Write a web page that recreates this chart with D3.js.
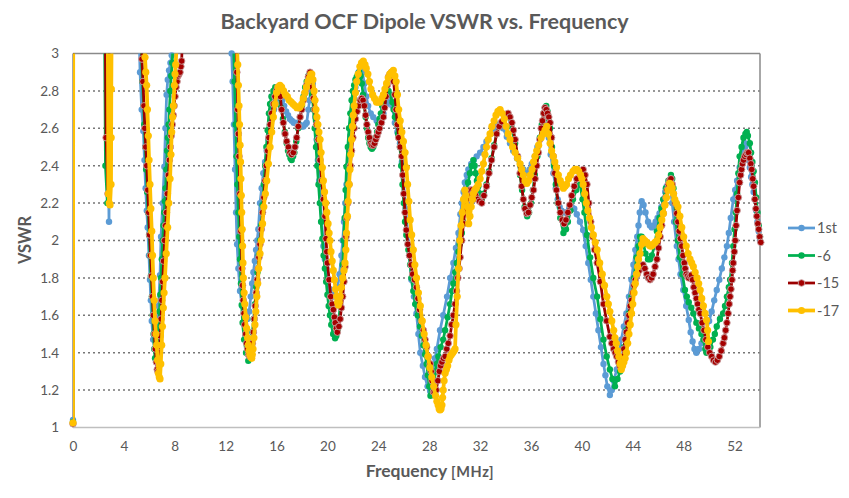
<!DOCTYPE html>
<html><head><meta charset="utf-8">
<script src="https://cdn.jsdelivr.net/npm/d3@7"></script>
<style>body{margin:0;background:#fff;} text{font-family:Lato,"Open Sans",sans-serif;fill:#595959;}</style>
</head><body><svg id="c" width="849" height="498"></svg>
<script>
const chartTitle = "Backyard OCF Dipole VSWR vs. Frequency";
const xTicks = [0,4,8,12,16,20,24,28,32,36,40,44,48,52];
const yTicks = [1,1.2,1.4,1.6,1.8,2,2.2,2.4,2.6,2.8,3];
const yTickLabels = ["1","1.2","1.4","1.6","1.8","2","2.2","2.4","2.6","2.8","3"];
const seriesNames = ["1st","-6","-15","-17"];

const s1st = [[0,1.04],[0.12,15],[1.5,8],[2.6,3.6],[2.83,2.10],[2.98,3.6],[4,8],[5.1,3.4],[5.27,2.90],[5.4,2.70],[5.53,2.585],[5.62,2.43],[5.71,2.28],[5.8,2.16],[5.87,2.07],[5.97,1.92],[6.05,1.79],[6.12,1.68],[6.19,1.57],[6.3,1.47],[6.45,1.42],[6.6,1.5],[6.72,1.65],[6.84,1.815],[6.92,2.02],[7.05,2.2],[7.18,2.395],[7.27,2.6],[7.36,2.78],[7.45,2.86],[7.55,2.91],[7.66,2.95],[7.76,2.99],[7.9,3.3],[10,8],[12.35,3.3],[12.47,3.0],[12.55,2.85],[12.65,2.62],[12.74,2.38],[12.82,2.15],[12.9,1.98],[13.0,1.85],[13.13,1.73],[13.3,1.65],[13.5,1.6],[13.7,1.58],[13.85,1.62],[13.97,1.70],[14.08,1.77],[14.18,1.83],[14.29,1.89],[14.39,1.95],[14.48,2.0],[14.57,2.06],[14.7,2.2],[14.83,2.28],[14.96,2.36],[15.1,2.42],[15.23,2.48],[15.37,2.54],[15.5,2.6],[15.65,2.65],[15.8,2.7],[15.95,2.73],[16.1,2.76],[16.3,2.77],[16.45,2.75],[16.6,2.72],[16.75,2.69],[16.9,2.67],[17.05,2.65],[17.2,2.64],[17.35,2.63],[17.5,2.63],[17.65,2.62],[17.8,2.62],[17.95,2.61],[18.1,2.61],[18.25,2.62],[18.37,2.63],[18.5,2.7],[18.6,2.75],[18.7,2.82],[18.77,2.86],[18.85,2.84],[18.95,2.76],[19.05,2.66],[19.15,2.54],[19.25,2.43],[19.35,2.32],[19.45,2.2],[19.55,2.1],[19.68,1.97],[19.8,1.9],[19.9,1.85],[20.05,1.79],[20.2,1.74],[20.35,1.71],[20.5,1.70],[20.65,1.71],[20.8,1.75],[20.95,1.82],[21.1,1.92],[21.2,2.0],[21.3,2.1],[21.4,2.2],[21.5,2.3],[21.6,2.4],[21.7,2.48],[21.8,2.56],[21.9,2.62],[22.0,2.7],[22.1,2.76],[22.2,2.82],[22.3,2.86],[22.45,2.9],[22.6,2.92],[22.75,2.9],[22.9,2.84],[23.05,2.77],[23.2,2.72],[23.4,2.68],[23.6,2.66],[23.87,2.64],[24.1,2.65],[24.4,2.68],[24.66,2.73],[24.9,2.77],[25.1,2.72],[25.3,2.63],[25.5,2.58],[25.7,2.52],[25.85,2.42],[26.0,2.3],[26.15,2.17],[26.3,2.05],[26.45,1.92],[26.6,1.79],[26.8,1.7],[27.0,1.61],[27.15,1.5],[27.3,1.40],[27.5,1.33],[27.67,1.27],[27.87,1.22],[28.07,1.195],[28.2,1.24],[28.3,1.31],[28.45,1.37],[28.6,1.42],[28.85,1.52],[29.1,1.6],[29.4,1.7],[29.65,1.8],[29.9,1.88],[30.1,1.96],[30.3,2.04],[30.45,2.14],[30.56,2.2],[30.7,2.26],[30.8,2.31],[30.95,2.35],[31.08,2.38],[31.3,2.41],[31.5,2.43],[31.73,2.45],[32.0,2.47],[32.26,2.50],[32.5,2.53],[32.8,2.57],[33.1,2.6],[33.4,2.62],[33.6,2.62],[33.8,2.6],[34.1,2.555],[34.35,2.52],[34.6,2.48],[34.9,2.44],[35.14,2.41],[35.4,2.38],[35.7,2.36],[35.9,2.38],[36.06,2.41],[36.3,2.45],[36.5,2.5],[36.7,2.55],[36.9,2.59],[37.1,2.62],[37.25,2.6],[37.4,2.55],[37.55,2.46],[37.76,2.36],[37.95,2.28],[38.1,2.22],[38.25,2.18],[38.4,2.16],[38.6,2.15],[38.8,2.15],[39.0,2.17],[39.2,2.18],[39.4,2.17],[39.6,2.14],[39.85,2.1],[40.1,2.056],[40.3,1.97],[40.5,1.88],[40.7,1.79],[40.9,1.70],[41.1,1.61],[41.3,1.52],[41.5,1.43],[41.7,1.34],[41.85,1.28],[42.0,1.22],[42.2,1.174],[42.35,1.2],[42.5,1.25],[42.74,1.31],[42.9,1.38],[43.1,1.47],[43.3,1.54],[43.5,1.61],[43.7,1.7],[43.9,1.79],[44.05,1.87],[44.2,1.95],[44.35,2.02],[44.45,2.08],[44.55,2.15],[44.7,2.21],[44.85,2.19],[45.0,2.15],[45.2,2.1],[45.35,2.08],[45.5,2.07],[45.65,2.08],[45.8,2.1],[45.95,2.12],[46.1,2.145],[46.25,2.18],[46.4,2.22],[46.55,2.26],[46.67,2.29],[46.8,2.3],[46.95,2.29],[47.1,2.2],[47.25,2.1],[47.46,1.97],[47.6,1.9],[47.75,1.82],[47.97,1.735],[48.2,1.65],[48.4,1.575],[48.55,1.51],[48.7,1.46],[48.85,1.42],[49.0,1.40],[49.2,1.42],[49.4,1.45],[49.6,1.48],[49.8,1.52],[50.0,1.57],[50.2,1.62],[50.4,1.68],[50.6,1.735],[50.8,1.79],[51.0,1.85],[51.2,1.91],[51.4,1.97],[51.55,2.04],[51.7,2.12],[51.9,2.22],[52.05,2.27],[52.2,2.32],[52.4,2.39],[52.55,2.45],[52.7,2.5],[52.8,2.52],[52.9,2.51],[53.0,2.47],[53.1,2.43],[53.2,2.39],[53.3,2.34],[53.4,2.3],[53.5,2.26],[53.6,2.22],[53.7,2.16],[53.8,2.1],[53.9,2.05],[54.0,2.0]];

const sM6 = [[0,1.03],[0.12,15],[1.5,8],[2.45,3.4],[2.55,2.40],[2.7,2.2],[2.85,3.4],[4,8],[5.25,3.3],[5.35,3.05],[5.45,2.85],[5.55,2.72],[5.6,2.62],[5.68,2.5],[5.75,2.38],[5.83,2.26],[5.9,2.15],[5.98,2.03],[6.05,1.92],[6.12,1.81],[6.2,1.7],[6.27,1.6],[6.33,1.5],[6.39,1.42],[6.45,1.37],[6.55,1.36],[6.62,1.4],[6.68,1.45],[6.74,1.53],[6.8,1.62],[6.86,1.71],[6.92,1.8],[6.98,1.9],[7.05,2.0],[7.11,2.08],[7.17,2.15],[7.22,2.21],[7.28,2.28],[7.34,2.38],[7.4,2.48],[7.46,2.55],[7.52,2.62],[7.58,2.7],[7.65,2.8],[7.72,2.88],[7.8,2.95],[7.95,3.2],[10,8],[12.6,3.1],[12.7,2.85],[12.78,2.62],[12.85,2.45],[12.92,2.3],[13.0,2.15],[13.07,2.02],[13.13,1.9],[13.2,1.77],[13.26,1.655],[13.33,1.56],[13.45,1.47],[13.6,1.4],[13.78,1.357],[13.9,1.38],[14.0,1.44],[14.1,1.51],[14.2,1.58],[14.3,1.66],[14.4,1.75],[14.5,1.83],[14.6,1.92],[14.7,2.0],[14.8,2.08],[14.9,2.19],[15.0,2.3],[15.1,2.4],[15.2,2.5],[15.3,2.59],[15.4,2.68],[15.49,2.73],[15.6,2.77],[15.75,2.80],[15.9,2.82],[16.05,2.82],[16.2,2.78],[16.35,2.71],[16.5,2.65],[16.65,2.58],[16.8,2.52],[16.9,2.48],[17.0,2.46],[17.1,2.44],[17.19,2.43],[17.3,2.45],[17.4,2.47],[17.55,2.53],[17.7,2.6],[17.85,2.66],[18.0,2.72],[18.12,2.77],[18.25,2.82],[18.37,2.85],[18.5,2.88],[18.6,2.87],[18.7,2.85],[18.8,2.78],[18.9,2.7],[19.0,2.6],[19.1,2.5],[19.2,2.4],[19.3,2.3],[19.4,2.2],[19.5,2.1],[19.6,2.01],[19.7,1.92],[19.8,1.85],[19.9,1.78],[20.0,1.71],[20.1,1.65],[20.2,1.6],[20.3,1.55],[20.45,1.5],[20.6,1.477],[20.7,1.49],[20.8,1.52],[20.9,1.58],[21.0,1.65],[21.1,1.75],[21.2,1.87],[21.28,2.0],[21.35,2.12],[21.43,2.27],[21.5,2.395],[21.6,2.5],[21.7,2.6],[21.8,2.68],[21.9,2.75],[22.0,2.8],[22.1,2.83],[22.2,2.86],[22.3,2.875],[22.4,2.89],[22.5,2.9],[22.6,2.88],[22.7,2.84],[22.8,2.78],[22.9,2.72],[23.0,2.66],[23.1,2.6],[23.2,2.55],[23.3,2.52],[23.4,2.5],[23.5,2.49],[23.6,2.5],[23.7,2.52],[23.8,2.55],[23.9,2.58],[24.0,2.62],[24.1,2.65],[24.2,2.68],[24.3,2.72],[24.4,2.74],[24.5,2.77],[24.65,2.79],[24.8,2.8],[24.95,2.78],[25.1,2.74],[25.2,2.7],[25.3,2.66],[25.45,2.62],[25.55,2.57],[25.7,2.5],[25.8,2.4],[25.9,2.3],[26.0,2.2],[26.1,2.1],[26.2,2.03],[26.36,1.95],[26.5,1.87],[26.6,1.8],[26.75,1.73],[26.9,1.66],[27.1,1.6],[27.28,1.54],[27.42,1.49],[27.55,1.44],[27.68,1.39],[27.8,1.34],[27.9,1.28],[28.0,1.22],[28.1,1.17],[28.2,1.18],[28.3,1.2],[28.4,1.25],[28.5,1.3],[28.6,1.34],[28.72,1.38],[28.9,1.43],[29.1,1.47],[29.25,1.52],[29.45,1.59],[29.64,1.66],[29.8,1.73],[29.9,1.77],[30.05,1.83],[30.17,1.88],[30.3,1.94],[30.4,1.98],[30.56,2.04],[30.65,2.1],[30.75,2.16],[30.85,2.22],[30.95,2.27],[31.05,2.31],[31.2,2.36],[31.35,2.4],[31.47,2.43],[31.57,2.4],[31.65,2.36],[31.75,2.32],[31.86,2.29],[32.0,2.25],[32.13,2.22],[32.3,2.25],[32.5,2.3],[32.7,2.37],[32.9,2.44],[33.1,2.51],[33.3,2.57],[33.5,2.61],[33.7,2.63],[33.95,2.66],[34.2,2.67],[34.45,2.61],[34.75,2.52],[34.95,2.44],[35.14,2.35],[35.3,2.27],[35.5,2.18],[35.7,2.13],[35.85,2.15],[36.0,2.2],[36.15,2.27],[36.3,2.35],[36.5,2.45],[36.7,2.55],[36.85,2.62],[37.0,2.68],[37.1,2.71],[37.2,2.72],[37.3,2.69],[37.4,2.65],[37.5,2.6],[37.65,2.5],[37.8,2.4],[37.95,2.3],[38.1,2.2],[38.3,2.12],[38.55,2.04],[38.75,2.06],[38.9,2.1],[39.1,2.16],[39.3,2.22],[39.55,2.27],[39.86,2.30],[40.05,2.22],[40.2,2.15],[40.4,2.03],[40.65,1.91],[40.9,1.8],[41.2,1.70],[41.45,1.58],[41.7,1.47],[41.95,1.38],[42.2,1.31],[42.4,1.26],[42.6,1.22],[42.8,1.26],[43.0,1.3],[43.1,1.34],[43.3,1.43],[43.5,1.52],[43.7,1.61],[43.9,1.70],[44.1,1.8],[44.3,1.91],[44.45,1.97],[44.57,2.02],[44.7,2.02],[44.85,1.98],[45.0,1.93],[45.2,1.90],[45.35,1.9],[45.5,1.92],[45.7,1.97],[45.9,2.05],[46.1,2.12],[46.25,2.17],[46.4,2.22],[46.6,2.28],[46.8,2.32],[47.0,2.35],[47.1,2.33],[47.2,2.28],[47.3,2.2],[47.4,2.1],[47.55,2.0],[47.7,1.91],[47.9,1.82],[48.1,1.735],[48.25,1.7],[48.4,1.67],[48.6,1.64],[48.76,1.61],[49.0,1.56],[49.2,1.53],[49.4,1.5],[49.55,1.47],[49.7,1.42],[49.8,1.40],[49.95,1.41],[50.1,1.43],[50.3,1.47],[50.45,1.5],[50.6,1.54],[50.85,1.58],[51.1,1.61],[51.25,1.65],[51.4,1.7],[51.55,1.75],[51.65,1.79],[51.8,1.88],[51.9,1.97],[52.0,2.06],[52.1,2.15],[52.2,2.25],[52.3,2.36],[52.4,2.45],[52.55,2.5],[52.7,2.55],[52.85,2.57],[52.96,2.58],[53.05,2.56],[53.2,2.52],[53.3,2.47],[53.4,2.42],[53.5,2.37],[53.6,2.31],[53.7,2.23],[53.8,2.15],[53.9,2.08],[54.0,2.02]];

const sM15 = [[0,1.02],[0.12,15],[1.5,8],[2.5,3.4],[2.6,2.55],[2.75,2.25],[2.9,3.4],[4,8],[5.3,3.3],[5.35,3.1],[5.42,2.97],[5.5,2.85],[5.58,2.72],[5.65,2.6],[5.72,2.5],[5.8,2.4],[5.88,2.27],[5.95,2.15],[6.02,2.03],[6.1,1.92],[6.17,1.81],[6.25,1.7],[6.32,1.6],[6.4,1.5],[6.47,1.42],[6.55,1.35],[6.62,1.31],[6.68,1.30],[6.74,1.34],[6.8,1.4],[6.86,1.49],[6.92,1.58],[6.98,1.68],[7.05,1.78],[7.12,1.89],[7.2,2.0],[7.28,2.08],[7.35,2.15],[7.42,2.25],[7.5,2.35],[7.58,2.43],[7.65,2.5],[7.72,2.56],[7.8,2.62],[7.88,2.67],[7.95,2.72],[8.02,2.77],[8.1,2.82],[8.18,2.85],[8.25,2.88],[8.33,2.89],[8.41,2.9],[8.48,2.93],[8.54,2.96],[8.65,3.2],[10,8],[12.7,3.3],[12.8,3.1],[12.88,2.9],[12.95,2.7],[13.0,2.57],[13.05,2.45],[13.12,2.25],[13.2,2.05],[13.28,1.85],[13.33,1.76],[13.38,1.68],[13.44,1.61],[13.5,1.55],[13.58,1.5],[13.65,1.45],[13.72,1.42],[13.8,1.39],[13.88,1.38],[13.95,1.38],[14.02,1.41],[14.1,1.45],[14.18,1.51],[14.25,1.58],[14.32,1.65],[14.4,1.72],[14.48,1.79],[14.55,1.85],[14.62,1.91],[14.7,1.98],[14.8,2.06],[14.9,2.15],[15.0,2.23],[15.1,2.32],[15.2,2.4],[15.3,2.48],[15.4,2.55],[15.5,2.62],[15.62,2.68],[15.75,2.73],[15.88,2.77],[16.0,2.8],[16.1,2.82],[16.2,2.82],[16.3,2.77],[16.4,2.70],[16.53,2.63],[16.67,2.57],[16.8,2.53],[16.93,2.50],[17.06,2.47],[17.19,2.46],[17.32,2.47],[17.45,2.50],[17.58,2.55],[17.71,2.61],[17.85,2.66],[17.98,2.70],[18.11,2.75],[18.24,2.79],[18.37,2.83],[18.5,2.875],[18.63,2.90],[18.72,2.87],[18.8,2.82],[18.9,2.76],[19.0,2.7],[19.14,2.62],[19.28,2.54],[19.42,2.43],[19.55,2.32],[19.68,2.22],[19.81,2.13],[19.89,2.01],[19.95,1.94],[20.0,1.88],[20.13,1.79],[20.26,1.70],[20.37,1.66],[20.47,1.63],[20.55,1.59],[20.62,1.56],[20.7,1.53],[20.78,1.51],[20.9,1.54],[21.0,1.58],[21.1,1.64],[21.2,1.70],[21.3,1.78],[21.38,1.86],[21.46,2.02],[21.53,2.12],[21.6,2.2],[21.7,2.3],[21.8,2.4],[21.9,2.48],[22.0,2.55],[22.1,2.6],[22.2,2.65],[22.33,2.69],[22.45,2.72],[22.58,2.75],[22.7,2.76],[22.8,2.75],[22.9,2.72],[23.0,2.67],[23.1,2.62],[23.2,2.58],[23.3,2.55],[23.4,2.52],[23.48,2.51],[23.6,2.51],[23.7,2.52],[23.8,2.54],[23.9,2.56],[24.0,2.58],[24.1,2.6],[24.25,2.63],[24.4,2.66],[24.5,2.71],[24.6,2.77],[24.7,2.83],[24.8,2.875],[24.92,2.89],[25.05,2.90],[25.13,2.88],[25.2,2.85],[25.3,2.78],[25.4,2.7],[25.5,2.62],[25.6,2.55],[25.72,2.5],[25.84,2.45],[25.92,2.35],[26.0,2.25],[26.1,2.15],[26.2,2.056],[26.32,1.98],[26.45,1.92],[26.58,1.87],[26.7,1.82],[26.85,1.79],[27.0,1.75],[27.12,1.69],[27.25,1.63],[27.4,1.57],[27.54,1.52],[27.67,1.47],[27.8,1.43],[27.93,1.38],[28.07,1.34],[28.15,1.3],[28.22,1.25],[28.33,1.19],[28.45,1.19],[28.55,1.2],[28.68,1.25],[28.8,1.3],[28.9,1.33],[29.0,1.35],[29.12,1.37],[29.25,1.38],[29.38,1.42],[29.5,1.45],[29.64,1.49],[29.77,1.55],[29.9,1.6],[30.03,1.66],[30.15,1.73],[30.25,1.8],[30.35,1.85],[30.43,1.91],[30.56,2.0],[30.69,2.09],[30.82,2.16],[30.95,2.22],[31.08,2.25],[31.2,2.27],[31.35,2.27],[31.5,2.26],[31.65,2.24],[31.8,2.22],[31.95,2.21],[32.13,2.20],[32.3,2.24],[32.5,2.29],[32.7,2.36],[32.9,2.43],[33.1,2.5],[33.3,2.57],[33.5,2.61],[33.7,2.635],[33.95,2.66],[34.2,2.68],[34.35,2.66],[34.5,2.63],[34.62,2.59],[34.75,2.54],[34.95,2.45],[35.14,2.36],[35.27,2.29],[35.4,2.22],[35.53,2.17],[35.67,2.145],[35.8,2.15],[35.93,2.19],[36.06,2.23],[36.2,2.27],[36.32,2.33],[36.45,2.4],[36.58,2.47],[36.7,2.54],[36.8,2.6],[36.9,2.64],[37.0,2.68],[37.1,2.71],[37.2,2.7],[37.3,2.68],[37.4,2.66],[37.5,2.63],[37.62,2.55],[37.75,2.45],[37.87,2.36],[38.0,2.27],[38.15,2.2],[38.3,2.15],[38.45,2.11],[38.6,2.09],[38.75,2.11],[38.9,2.15],[39.05,2.19],[39.2,2.24],[39.4,2.29],[39.6,2.33],[39.85,2.36],[40.1,2.38],[40.25,2.35],[40.4,2.3],[40.55,2.2],[40.7,2.1],[40.85,2.02],[41.0,1.95],[41.2,1.88],[41.45,1.78],[41.7,1.66],[41.95,1.57],[42.2,1.485],[42.35,1.45],[42.5,1.42],[42.62,1.4],[42.74,1.38],[42.87,1.35],[43.0,1.325],[43.1,1.35],[43.2,1.38],[43.3,1.42],[43.4,1.47],[43.5,1.51],[43.6,1.56],[43.7,1.6],[43.8,1.65],[43.9,1.68],[44.0,1.72],[44.1,1.76],[44.2,1.79],[44.35,1.82],[44.5,1.84],[44.65,1.86],[44.8,1.87],[44.95,1.85],[45.1,1.82],[45.23,1.8],[45.36,1.79],[45.48,1.8],[45.6,1.82],[45.75,1.86],[45.9,1.90],[46.03,1.96],[46.15,2.02],[46.28,2.08],[46.4,2.145],[46.5,2.19],[46.6,2.23],[46.7,2.27],[46.8,2.3],[46.9,2.32],[47.0,2.33],[47.1,2.3],[47.2,2.25],[47.33,2.2],[47.46,2.145],[47.55,2.1],[47.65,2.05],[47.75,2.01],[47.85,1.97],[47.95,1.92],[48.05,1.88],[48.12,1.85],[48.2,1.82],[48.3,1.81],[48.4,1.8],[48.5,1.81],[48.6,1.815],[48.7,1.79],[48.8,1.75],[48.9,1.72],[49.0,1.69],[49.1,1.66],[49.2,1.63],[49.3,1.61],[49.45,1.56],[49.6,1.52],[49.75,1.47],[49.9,1.43],[50.05,1.4],[50.2,1.38],[50.35,1.36],[50.5,1.35],[50.65,1.36],[50.8,1.38],[50.95,1.41],[51.1,1.45],[51.2,1.48],[51.3,1.52],[51.4,1.56],[51.5,1.61],[51.58,1.66],[51.65,1.7],[51.72,1.74],[51.8,1.79],[51.85,1.84],[51.9,1.88],[51.98,1.94],[52.05,2.0],[52.12,2.08],[52.2,2.16],[52.3,2.23],[52.4,2.31],[52.48,2.35],[52.55,2.38],[52.62,2.41],[52.7,2.43],[52.8,2.45],[52.9,2.46],[53.0,2.47],[53.1,2.47],[53.2,2.44],[53.28,2.41],[53.35,2.38],[53.43,2.33],[53.5,2.29],[53.6,2.22],[53.68,2.17],[53.75,2.13],[53.83,2.09],[53.9,2.06],[53.98,2.02],[54.06,1.99]];

const sM17 = [[0,1.025],[0.12,15],[1.5,8],[2.72,3.4],[2.78,2.25],[2.85,2.2],[2.91,2.19],[2.99,2.30],[3.0,2.55],[3.01,2.81],[3.06,3.4],[4,8],[5.55,3.1],[5.66,2.98],[5.72,2.9],[5.79,2.83],[5.85,2.7],[5.92,2.56],[5.98,2.43],[6.05,2.30],[6.12,2.17],[6.19,2.05],[6.25,1.92],[6.31,1.80],[6.38,1.68],[6.45,1.57],[6.52,1.5],[6.58,1.44],[6.65,1.36],[6.71,1.29],[6.78,1.27],[6.84,1.26],[6.9,1.34],[6.97,1.44],[7.03,1.54],[7.1,1.64],[7.16,1.72],[7.23,1.80],[7.33,1.93],[7.44,2.07],[7.53,2.2],[7.63,2.33],[7.7,2.46],[7.76,2.58],[7.83,2.66],[7.89,2.72],[7.97,2.83],[8.02,2.89],[8.07,2.94],[8.15,3.05],[8.3,3.3],[10,8],[12.75,3.3],[12.85,3.1],[12.95,2.94],[13.0,2.83],[13.05,2.72],[13.09,2.62],[13.13,2.51],[13.17,2.42],[13.2,2.33],[13.23,2.24],[13.26,2.15],[13.3,2.06],[13.33,1.97],[13.36,1.88],[13.39,1.80],[13.45,1.72],[13.5,1.66],[13.58,1.59],[13.65,1.53],[13.72,1.48],[13.78,1.44],[13.84,1.41],[13.9,1.39],[13.97,1.38],[14.05,1.37],[14.1,1.39],[14.15,1.42],[14.22,1.48],[14.3,1.55],[14.37,1.62],[14.45,1.7],[14.52,1.77],[14.6,1.85],[14.7,1.93],[14.8,2.0],[14.9,2.09],[15.0,2.18],[15.12,2.25],[15.23,2.32],[15.36,2.41],[15.49,2.50],[15.62,2.58],[15.75,2.66],[15.88,2.73],[16.0,2.79],[16.13,2.82],[16.27,2.83],[16.4,2.82],[16.55,2.8],[16.7,2.78],[16.85,2.77],[17.0,2.75],[17.15,2.74],[17.3,2.73],[17.45,2.72],[17.6,2.71],[17.75,2.71],[17.85,2.715],[17.98,2.73],[18.1,2.76],[18.22,2.79],[18.35,2.82],[18.47,2.85],[18.6,2.87],[18.7,2.89],[18.77,2.89],[18.86,2.86],[18.95,2.8],[19.02,2.75],[19.1,2.7],[19.17,2.66],[19.25,2.62],[19.33,2.58],[19.42,2.54],[19.5,2.47],[19.6,2.39],[19.68,2.32],[19.77,2.26],[19.86,2.2],[19.95,2.15],[20.05,2.09],[20.13,2.04],[20.2,2.0],[20.28,1.94],[20.37,1.89],[20.46,1.84],[20.55,1.79],[20.64,1.74],[20.73,1.70],[20.8,1.67],[20.86,1.655],[20.93,1.67],[21.0,1.7],[21.1,1.75],[21.2,1.8],[21.3,1.84],[21.38,1.88],[21.45,1.95],[21.5,2.04],[21.57,2.13],[21.63,2.21],[21.7,2.3],[21.77,2.38],[21.83,2.46],[21.9,2.54],[21.97,2.61],[22.03,2.67],[22.1,2.72],[22.2,2.79],[22.3,2.85],[22.42,2.89],[22.55,2.93],[22.68,2.95],[22.82,2.96],[22.95,2.94],[23.05,2.92],[23.18,2.89],[23.3,2.85],[23.42,2.81],[23.55,2.78],[23.7,2.76],[23.85,2.74],[24.0,2.74],[24.13,2.74],[24.27,2.76],[24.4,2.78],[24.52,2.81],[24.65,2.84],[24.78,2.87],[24.9,2.89],[25.05,2.9],[25.18,2.91],[25.3,2.88],[25.4,2.85],[25.5,2.78],[25.6,2.7],[25.72,2.64],[25.85,2.58],[25.97,2.53],[26.1,2.47],[26.2,2.39],[26.3,2.3],[26.4,2.21],[26.5,2.11],[26.62,2.03],[26.75,1.95],[26.87,1.87],[27.0,1.8],[27.15,1.72],[27.3,1.65],[27.45,1.57],[27.6,1.5],[27.75,1.44],[27.9,1.38],[28.05,1.32],[28.2,1.27],[28.35,1.22],[28.5,1.17],[28.6,1.14],[28.7,1.12],[28.78,1.1],[28.85,1.094],[28.93,1.1],[29.0,1.12],[29.05,1.16],[29.1,1.2],[29.17,1.25],[29.25,1.29],[29.35,1.31],[29.45,1.33],[29.55,1.36],[29.64,1.38],[29.75,1.39],[29.85,1.40],[29.95,1.41],[30.03,1.42],[30.1,1.55],[30.2,1.7],[30.3,1.85],[30.4,2.0],[30.5,2.08],[30.6,2.15],[30.7,2.22],[30.8,2.27],[30.9,2.24],[31.0,2.18],[31.1,2.09],[31.2,2.13],[31.3,2.18],[31.4,2.22],[31.47,2.25],[31.58,2.27],[31.7,2.28],[31.85,2.3],[32.0,2.33],[32.13,2.37],[32.26,2.41],[32.38,2.46],[32.5,2.5],[32.64,2.54],[32.78,2.57],[32.93,2.61],[33.1,2.64],[33.25,2.67],[33.4,2.69],[33.57,2.70],[33.73,2.68],[33.9,2.65],[34.05,2.61],[34.2,2.57],[34.35,2.54],[34.55,2.5],[34.75,2.47],[34.95,2.44],[35.14,2.41],[35.27,2.38],[35.4,2.35],[35.53,2.32],[35.67,2.305],[35.8,2.32],[35.95,2.35],[36.08,2.38],[36.2,2.42],[36.32,2.45],[36.45,2.48],[36.6,2.51],[36.8,2.55],[36.95,2.57],[37.1,2.59],[37.24,2.61],[37.37,2.57],[37.5,2.52],[37.62,2.48],[37.75,2.45],[37.87,2.42],[38.0,2.39],[38.15,2.35],[38.3,2.32],[38.42,2.3],[38.55,2.28],[38.68,2.29],[38.8,2.3],[38.95,2.33],[39.1,2.35],[39.3,2.37],[39.45,2.38],[39.6,2.38],[39.75,2.37],[39.9,2.35],[40.0,2.33],[40.1,2.3],[40.22,2.25],[40.35,2.2],[40.47,2.16],[40.6,2.12],[40.75,2.07],[40.9,2.03],[41.05,1.99],[41.2,1.95],[41.4,1.88],[41.6,1.82],[41.78,1.76],[41.96,1.70],[42.08,1.66],[42.2,1.62],[42.35,1.57],[42.5,1.52],[42.6,1.48],[42.7,1.45],[42.8,1.41],[42.9,1.38],[43.0,1.34],[43.1,1.31],[43.2,1.33],[43.3,1.35],[43.4,1.37],[43.5,1.40],[43.6,1.45],[43.7,1.5],[43.8,1.55],[43.9,1.61],[44.0,1.66],[44.1,1.72],[44.2,1.77],[44.3,1.82],[44.38,1.86],[44.45,1.9],[44.57,1.93],[44.7,1.98],[44.8,2.01],[44.95,2.0],[45.1,1.99],[45.23,1.98],[45.36,1.97],[45.48,1.97],[45.6,1.98],[45.75,1.99],[45.9,2.0],[46.03,2.03],[46.15,2.07],[46.28,2.11],[46.4,2.145],[46.53,2.19],[46.65,2.23],[46.78,2.27],[46.9,2.305],[47.0,2.3],[47.1,2.28],[47.2,2.25],[47.3,2.22],[47.42,2.2],[47.55,2.18],[47.7,2.13],[47.85,2.07],[48.0,2.02],[48.2,1.97],[48.35,1.93],[48.5,1.9],[48.63,1.88],[48.76,1.86],[48.9,1.83],[49.05,1.8],[49.18,1.77],[49.3,1.735],[49.42,1.69],[49.55,1.65],[49.68,1.61],[49.8,1.575],[49.88,1.52],[49.95,1.46]];

const svg = d3.select("#c");
const W = 849, H = 498;
const L = 73, R = 760, T = 53.5, B = 427.5;
const x = d3.scaleLinear().domain([0,54]).range([L,R]);
const y = d3.scaleLinear().domain([1,3]).range([B,T]);

svg.append("rect").attr("width",W).attr("height",H).attr("fill","#fff");

svg.append("defs").append("clipPath").attr("id","plotclip")
  .append("rect").attr("x",L).attr("y",T).attr("width",R-L).attr("height",B-T);

// gridlines
svg.append("g").selectAll("line").data(yTicks.filter(v=>v>1 && v<3)).join("line")
  .attr("x1",L).attr("x2",R).attr("y1",d=>y(d)).attr("y2",d=>y(d))
  .attr("stroke","#767676").attr("stroke-width",1.5).attr("stroke-dasharray","2,3");

// plot border
svg.append("line").attr("x1",L).attr("x2",R).attr("y1",y(3)).attr("y2",y(3)).attr("stroke","#8a8a8a").attr("stroke-width",1.5);
svg.append("line").attr("x1",R).attr("x2",R).attr("y1",T).attr("y2",B).attr("stroke","#8a8a8a").attr("stroke-width",1.5);
svg.append("line").attr("x1",L).attr("x2",L).attr("y1",T).attr("y2",B).attr("stroke","#8a8a8a").attr("stroke-width",1.5);
svg.append("line").attr("x1",L).attr("x2",R).attr("y1",y(1)).attr("y2",y(1)).attr("stroke","#bfbfbf").attr("stroke-width",1.5);

// axes labels
const yAxis = d3.axisLeft(y).tickValues(yTicks).tickSize(0).tickFormat((d,i)=>yTickLabels[i]);
const gy = svg.append("g").attr("transform",`translate(${L-2},0)`).call(yAxis);
gy.select(".domain").remove();
gy.selectAll("text").attr("font-size",13.5).attr("font-family","Lato").attr("fill","#595959").attr("x",-12);

const xAxis = d3.axisBottom(x).tickValues(xTicks).tickSize(0).tickFormat(d3.format("d"));
const gx = svg.append("g").attr("transform",`translate(0,${B})`).call(xAxis);
gx.select(".domain").remove();
gx.selectAll("text").attr("font-size",13.5).attr("font-family","Lato").attr("fill","#595959").attr("y",14);

// series
const styles = [
  {name:seriesNames[0], data:s1st, color:"#5B9BD5", lw:2.75, r:3.2, fill:"#5B9BD5", stroke:"none"},
  {name:seriesNames[1], data:sM6, color:"#00B050", lw:2.75, r:3.2, fill:"#00B050", stroke:"none"},
  {name:seriesNames[2], data:sM15, color:"#9B0000", lw:2.75, r:3.3, fill:"#A50000", stroke:"#C8A3A3"},
  {name:seriesNames[3], data:sM17, color:"#FFC000", lw:3.75, r:3.6, fill:"#FFC000", stroke:"none"}
];
const line = d3.line().x(d=>x(d[0])).y(d=>y(d[1]));
const plot = svg.append("g");
styles.forEach(s=>{
  const g = plot.append("g");
  g.append("path").datum(s.data).attr("d",line).attr("fill","none")
    .attr("stroke",s.color).attr("stroke-width",s.lw).attr("stroke-linejoin","round")
    .attr("clip-path","url(#plotclip)");
  g.selectAll("circle").data(s.data.filter(d=>d[1]<=3.005 && d[1]>=1 && d[0]<=54.1)).join("circle")
    .attr("cx",d=>x(d[0])).attr("cy",d=>y(d[1])).attr("r",s.r)
    .attr("fill",s.fill).attr("stroke",s.stroke).attr("stroke-width",s.stroke==="none"?0:0.9);
});

// title
svg.append("text").attr("x",424.5).attr("y",29).attr("text-anchor","middle")
  .attr("font-size",21.5).attr("font-weight","bold").attr("fill","#595959").text(chartTitle);

// y title
svg.append("text").attr("transform","translate(31,240) rotate(-90)").attr("text-anchor","middle")
  .attr("font-size",16.5).attr("font-weight","bold").attr("fill","#595959").text("VSWR");

// x title
const xt = svg.append("text").attr("x",430).attr("y",477).attr("text-anchor","middle")
  .attr("font-weight","bold").attr("fill","#595959");
xt.append("tspan").attr("font-size",17.5).text("Frequency ");
xt.append("tspan").attr("font-size",14.5).attr("letter-spacing",0.6).text("[MHz]");

// legend
const lg = svg.append("g");
styles.forEach((s,i)=>{
  const yy = 228 + i*27.5;
  lg.append("line").attr("x1",788).attr("x2",815).attr("y1",yy).attr("y2",yy)
    .attr("stroke",s.color).attr("stroke-width",s.lw);
  lg.append("circle").attr("cx",801.5).attr("cy",yy).attr("r",s.r)
    .attr("fill",s.fill).attr("stroke",s.stroke).attr("stroke-width",s.stroke==="none"?0:0.9);
  lg.append("text").attr("x",817).attr("y",yy).attr("dy","0.35em")
    .attr("font-size",14.5).attr("fill","#595959").text(s.name);
});
</script></body></html>
